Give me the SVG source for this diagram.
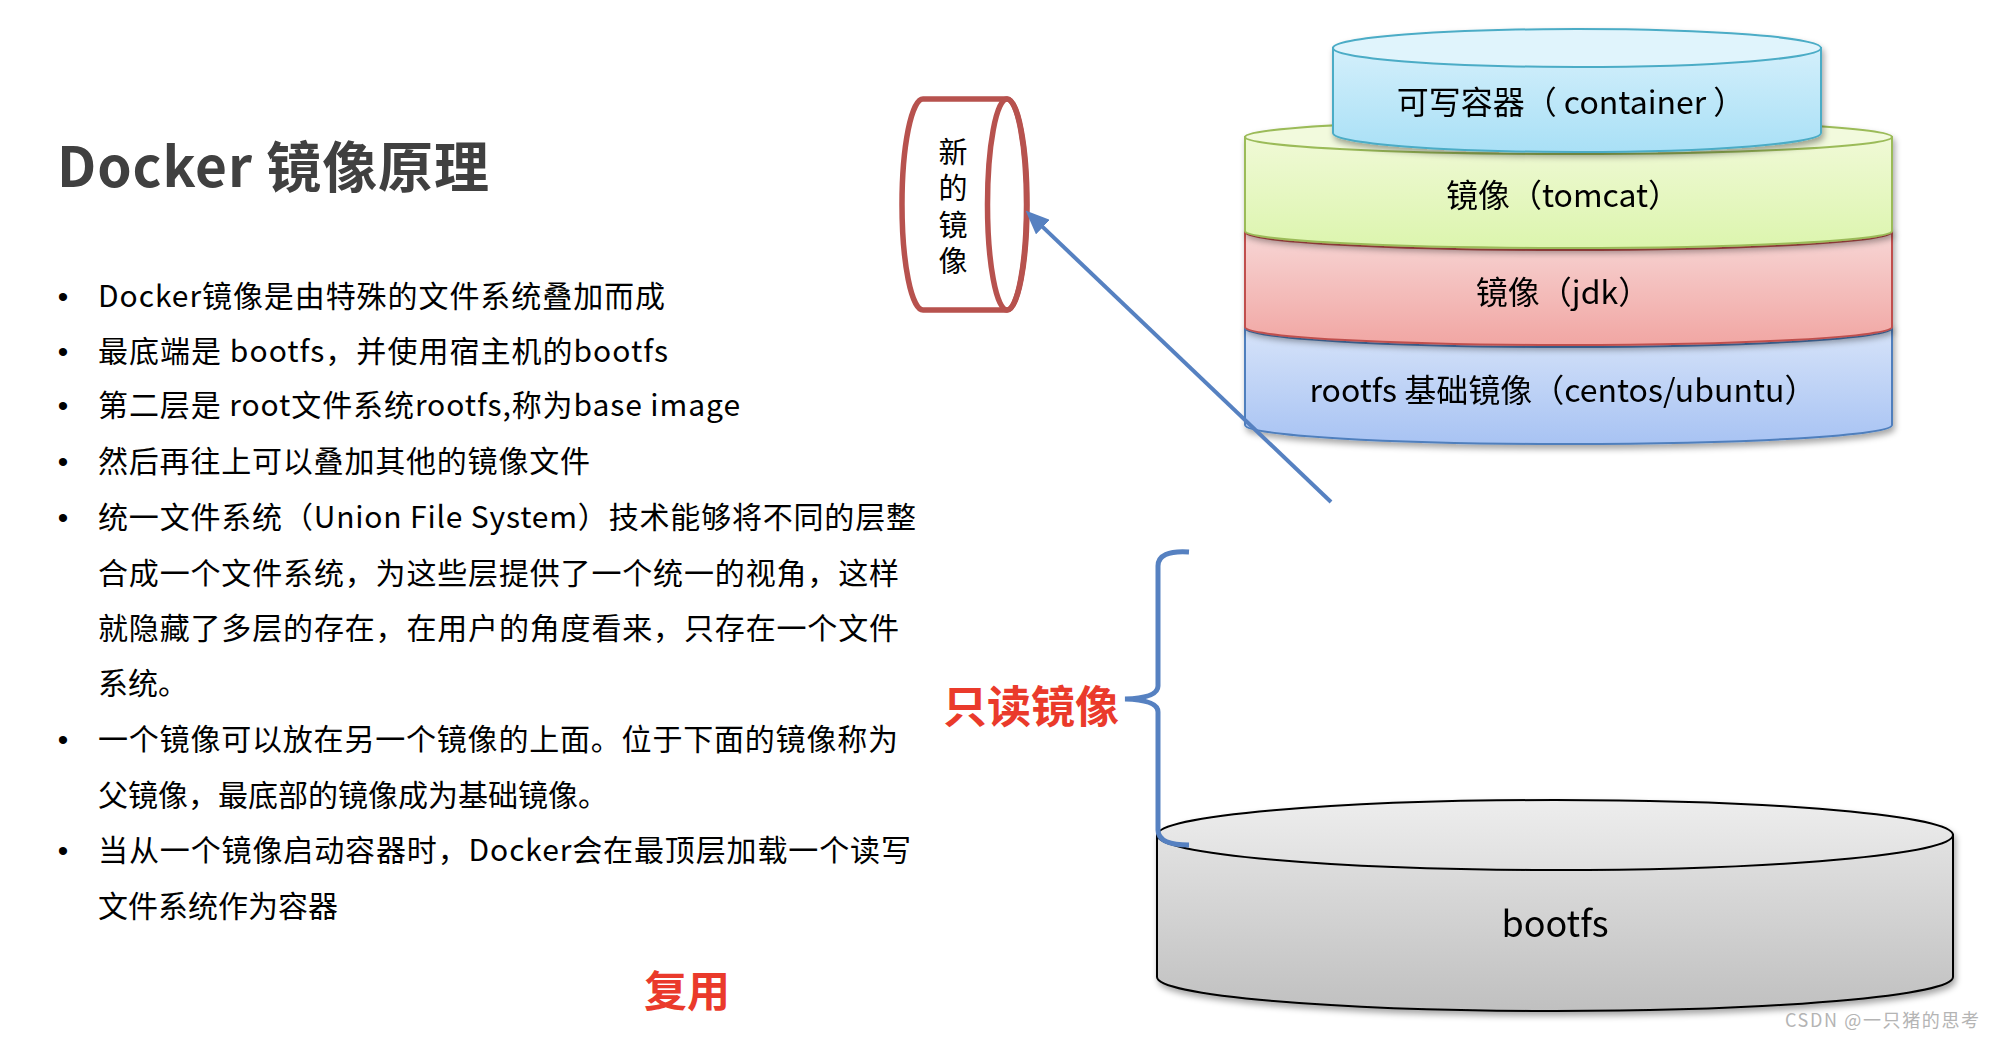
<svg xmlns="http://www.w3.org/2000/svg" width="1992" height="1038" viewBox="0 0 1992 1038">
  <style>
    .t { font-family: "Noto Sans CJK SC", "Noto Sans", sans-serif; }
    .title { font-size: 55px; font-weight: bold; fill: #404040; }
    .body { font-size: 30px; fill: #000; }
    .bul { font-family: "Liberation Sans", sans-serif; font-size: 30px; fill: #000; }
    .lay { font-size: 32px; fill: #000; text-anchor: middle; }
    .red { font-size: 44px; font-weight: bold; fill: #ea3a2b; }
    .wm { font-size: 18px; fill: #b4b4b4; }
  </style>
  <defs>
    <filter id="sh" x="-5%" y="-20%" width="110%" height="150%">
      <feDropShadow dx="2" dy="4" stdDeviation="3" flood-color="#000" flood-opacity="0.35"/>
    </filter>
    <linearGradient id="gC" x1="0" y1="0" x2="0" y2="1">
      <stop offset="0" stop-color="#d3effb"/>
      <stop offset="1" stop-color="#a9e0f6"/>
    </linearGradient>
    <linearGradient id="gG" x1="0" y1="0" x2="0" y2="1">
      <stop offset="0" stop-color="#f0f9d6"/>
      <stop offset="1" stop-color="#dcf5ae"/>
    </linearGradient>
    <linearGradient id="gR" x1="0" y1="0" x2="0" y2="1">
      <stop offset="0" stop-color="#f7d6d5"/>
      <stop offset="1" stop-color="#f1a6a3"/>
    </linearGradient>
    <linearGradient id="gB" x1="0" y1="0" x2="0" y2="1">
      <stop offset="0" stop-color="#d6e3f9"/>
      <stop offset="1" stop-color="#a8c3f3"/>
    </linearGradient>
    <linearGradient id="gK" x1="0" y1="0" x2="0" y2="1">
      <stop offset="0" stop-color="#e2e2e2"/>
      <stop offset="1" stop-color="#c0c0c0"/>
    </linearGradient>
    <linearGradient id="gKt" x1="0" y1="0" x2="0" y2="1">
      <stop offset="0" stop-color="#ededed"/>
      <stop offset="1" stop-color="#e0e0e0"/>
    </linearGradient>
    <marker id="ah" markerUnits="userSpaceOnUse" markerWidth="24" markerHeight="20" refX="4" refY="10" orient="auto">
      <path d="M0,0 L24,10 L0,20 Z" fill="#5681c1"/>
    </marker>
  </defs>

  <rect width="1992" height="1038" fill="#fff"/>

  <g id="title">
    <text class="t title" x="57" y="187" textLength="432">Docker 镜像原理</text>
  </g>

  <g id="bullets" class="t">
    <text class="bul" x="63" y="307" text-anchor="middle">•</text>
    <text class="body" x="98" y="307" textLength="567">Docker镜像是由特殊的文件系统叠加而成</text>
    <text class="bul" x="63" y="362" text-anchor="middle">•</text>
    <text class="body" x="98" y="362" textLength="570">最底端是 bootfs，并使用宿主机的bootfs</text>
    <text class="bul" x="63" y="416" text-anchor="middle">•</text>
    <text class="body" x="98" y="416" textLength="642">第二层是 root文件系统rootfs,称为base image</text>
    <text class="bul" x="63" y="472" text-anchor="middle">•</text>
    <text class="body" x="98" y="472" textLength="492">然后再往上可以叠加其他的镜像文件</text>
    <text class="bul" x="63" y="528" text-anchor="middle">•</text>
    <text class="body" x="98" y="528" textLength="818">统一文件系统（Union File System）技术能够将不同的层整</text>
    <text class="body" x="98" y="584" textLength="801">合成一个文件系统，为这些层提供了一个统一的视角，这样</text>
    <text class="body" x="98" y="639" textLength="801">就隐藏了多层的存在，在用户的角度看来，只存在一个文件</text>
    <text class="body" x="98" y="694">系统。</text>
    <text class="bul" x="63" y="750" text-anchor="middle">•</text>
    <text class="body" x="98" y="750" textLength="800">一个镜像可以放在另一个镜像的上面。位于下面的镜像称为</text>
    <text class="body" x="98" y="806">父镜像，最底部的镜像成为基础镜像。</text>
    <text class="bul" x="63" y="861" text-anchor="middle">•</text>
    <text class="body" x="98" y="861" textLength="813">当从一个镜像启动容器时，Docker会在最顶层加载一个读写</text>
    <text class="body" x="98" y="917">文件系统作为容器</text>
  </g>

  <g id="reuse">
    <text class="t red" x="644" y="1007" style="font-size:43px">复用</text>
  </g>

  <g id="new-image">
    <path d="M923,99 L1007,99 A20,105.5 0 0 1 1007,310 L923,310 A21,105.5 0 0 1 923,99 Z" fill="#fff" stroke="#b7524e" stroke-width="5.5"/>
    <ellipse cx="1007" cy="204.5" rx="19.5" ry="105.5" fill="none" stroke="#b7524e" stroke-width="5.5"/>
    <text class="t" x="953" y="137" font-size="29" writing-mode="vertical-rl" letter-spacing="7.5">新的镜像</text>
  </g>

  <g id="layer-rootfs" filter="url(#sh)">
    <path d="M1245,328 L1245,425 A323.5,19 0 0 0 1892,425 L1892,328 Z" fill="url(#gB)" stroke="#4f7fbd" stroke-width="2"/>
    <ellipse cx="1568.5" cy="328" rx="323.5" ry="19" fill="#d8e4f9" stroke="#4f7fbd" stroke-width="2"/>
    <text class="t lay" x="1563" y="402">rootfs 基础镜像（centos/ubuntu）</text>
  </g>

  <g id="layer-jdk" filter="url(#sh)">
    <path d="M1245,232 L1245,327 A323.5,18 0 0 0 1892,327 L1892,232 Z" fill="url(#gR)" stroke="#c0504d" stroke-width="2"/>
    <ellipse cx="1568.5" cy="232" rx="323.5" ry="18" fill="#f8dcdb" stroke="#c0504d" stroke-width="2"/>
    <text class="t lay" x="1563" y="304">镜像（jdk）</text>
  </g>

  <g id="layer-tomcat" filter="url(#sh)">
    <path d="M1245,137 L1245,231 A323.5,17 0 0 0 1892,231 L1892,137 Z" fill="url(#gG)" stroke="#9bbb59" stroke-width="2"/>
    <ellipse cx="1568.5" cy="137" rx="323.5" ry="17" fill="#f2fadd" stroke="#9bbb59" stroke-width="2"/>
    <text class="t lay" x="1563" y="207">镜像（tomcat）</text>
  </g>

  <g id="layer-container" filter="url(#sh)">
    <path d="M1333,48 L1333,133 A244,19 0 0 0 1821,133 L1821,48 Z" fill="url(#gC)" stroke="#4bacc6" stroke-width="2"/>
    <ellipse cx="1577" cy="48" rx="244" ry="19" fill="#e0f4fc" stroke="#4bacc6" stroke-width="2"/>
    <text class="t lay" x="1571" y="114">可写容器（ container ）</text>
  </g>

  <g id="bootfs" filter="url(#sh)">
    <path d="M1157,835 L1157,977 A398,34 0 0 0 1953,977 L1953,835 Z" fill="url(#gK)" stroke="#000" stroke-width="2"/>
    <ellipse cx="1555" cy="835" rx="398" ry="35" fill="url(#gKt)" stroke="#000" stroke-width="2"/>
    <text class="t lay" x="1555" y="937" style="font-size:36px">bootfs</text>
  </g>

  <g id="readonly-label">
    <text class="t red" x="943" y="723">只读镜像</text>
  </g>

  <g id="connectors" fill="none" stroke="#5681c1">
    <line x1="1331" y1="502" x2="1040" y2="224.4" stroke-width="4" marker-end="url(#ah)"/>
    <path d="M1189,552 Q1158,550 1158,566 L1158,686 Q1158,698 1125,699 Q1158,700 1158,712 L1158,830 Q1158,845 1189,845" stroke-width="5"/>
  </g>

  <g id="watermark">
    <text class="t wm" x="1785" y="1027" textLength="194">CSDN @一只猪的思考</text>
  </g>
</svg>
